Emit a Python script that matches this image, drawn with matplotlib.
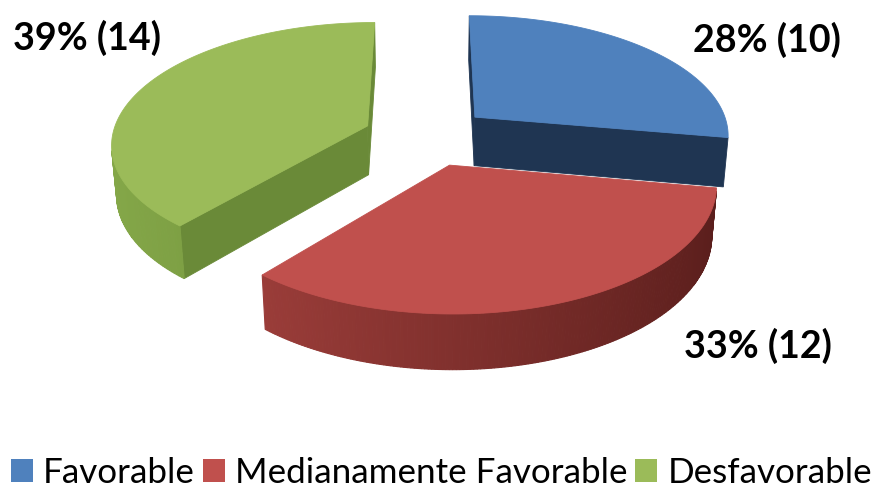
import numpy as np
import matplotlib
matplotlib.use('Agg')
import matplotlib.pyplot as plt
from matplotlib.patches import Polygon, Patch
from matplotlib import font_manager
from matplotlib.colors import to_rgb

# ---------------- data ----------------
categories = ['Favorable', 'Medianamente Favorable', 'Desfavorable']
counts = [10, 12, 14]
top_colors = ['#4F81BD', '#C0504D', '#9BBB59']
cut_colors = ['#1F3552', '#6E2624', '#6A8A38']
wall_left = ['#3A6394', '#A8433F', '#85A849']
wall_right = ['#1F3552', '#5A1E1C', '#5E7D2E']

# ---------------- figure ----------------
W, H = 871, 488
fig = plt.figure(figsize=(W / 100, H / 100), dpi=100)
ax = fig.add_axes([0, 0, 1, 1])
ax.set_xlim(0, W)
ax.set_ylim(H, 0)
ax.axis('off')

avail = {f.name for f in font_manager.fontManager.ttflist}
FAM = ['Lato', 'DejaVu Sans'] if 'Lato' in avail else ['DejaVu Sans']

# ---------------- 3D pie projection ----------------
S = 255.5
CX, CY = 427.0, 136.0
EL = np.radians(28.0)
DIST = 6.5
THICK = 0.222
EXPLODE = 0.25
cam = np.array([0.0, -DIST * np.cos(EL), DIST * np.sin(EL)])


def project(P):
    P = np.atleast_2d(np.asarray(P, dtype=float))
    x, y, z = P[:, 0], P[:, 1], P[:, 2]
    depth = DIST + y * np.cos(EL) - z * np.sin(EL)
    f = DIST / depth
    sy = y * np.sin(EL) + z * np.cos(EL)
    return np.column_stack([CX + S * x * f, CY - S * sy * f])


def visible(normal, point):
    return np.dot(normal, cam - point) > 0


total = sum(counts)
slices = []
cum = 0
for i, v in enumerate(counts):
    t1 = 90.0 - 360.0 * cum / total
    t0 = t1 - 360.0 * v / total
    cum += v
    mid = np.radians((t0 + t1) / 2)
    off = EXPLODE * np.array([np.cos(mid), np.sin(mid)])
    slices.append((i, t0, t1, off))

slices.sort(key=lambda s: -s[3][1])  # far first

for i, t0, t1, off in slices:
    ts = np.radians(np.linspace(t0, t1, 181))
    rim = np.column_stack([off[0] + np.cos(ts), off[1] + np.sin(ts)])
    z0 = np.zeros(len(ts))
    zb = np.full(len(ts), -THICK)
    rim_top = np.column_stack([rim, z0])
    rim_bot = np.column_stack([rim, zb])
    apex_top = np.array([off[0], off[1], 0.0])
    apex_bot = np.array([off[0], off[1], -THICK])

    # radial cut faces (only those facing the viewer's front)
    for nrm, idx in [(np.array([np.sin(ts[0]), -np.cos(ts[0]), 0.0]), 0),
                     (np.array([-np.sin(ts[-1]), np.cos(ts[-1]), 0.0]), -1)]:
        quad = np.array([apex_top, rim_top[idx], rim_bot[idx], apex_bot])
        if visible(nrm, quad.mean(axis=0)) and nrm[1] < 0.5:
            ax.add_patch(Polygon(project(quad), closed=True, facecolor=cut_colors[i],
                                 edgecolor=cut_colors[i], lw=0.6))

    # outer wall
    cl = np.array(to_rgb(wall_left[i]))
    cr = np.array(to_rgb(wall_right[i]))
    for j in range(len(ts) - 1):
        tm = 0.5 * (ts[j] + ts[j + 1])
        nrm = np.array([np.cos(tm), np.sin(tm), 0.0])
        pm = np.array([off[0] + np.cos(tm), off[1] + np.sin(tm), -THICK / 2])
        if visible(nrm, pm):
            frac = (1 - np.cos(tm)) / 2
            col = cr + (cl - cr) * frac
            quad = np.array([rim_top[j], rim_top[j + 1], rim_bot[j + 1], rim_bot[j]])
            ax.add_patch(Polygon(project(quad), closed=True, facecolor=col,
                                 edgecolor=col, lw=0.8))

    # top face
    top = np.vstack([apex_top, rim_top])
    ax.add_patch(Polygon(project(top), closed=True, facecolor=top_colors[i],
                         edgecolor=top_colors[i], lw=0.6))

# ---------------- labels ----------------
renderer = fig.canvas.get_renderer()


def fit_size(txt, target_w, weight='normal'):
    t = ax.text(0, 0, txt, fontsize=20, family=FAM, fontweight=weight)
    w = t.get_window_extent(renderer=renderer).width
    t.remove()
    return 20 * target_w / w


pct_labels = [f"{round(100 * v / total)}% ({v})" for v in counts]
label_pos = [(767, 40), (758, 346), (87, 38)]
lab_size = fit_size(pct_labels[2], 148, 'bold')
for txt, (x, y) in zip(pct_labels, label_pos):
    ax.text(x, y, txt, ha='center', va='center', fontsize=lab_size,
            fontweight='bold', family=FAM, color='black')

# ---------------- legend ----------------
leg_size = fit_size('Medianamente Favorable', 392)
em = leg_size * 100 / 72
handles = [Patch(facecolor=c, edgecolor='none') for c in top_colors]
fig.legend(handles, categories, loc='center', ncol=3,
           bbox_to_anchor=((12 + 871) / 2 / W, 1 - 473 / H),
           frameon=False, prop={'family': FAM, 'size': leg_size},
           handlelength=22 / em, handleheight=22 / em,
           handletextpad=10 / em, columnspacing=8 / em, borderpad=0,
           borderaxespad=0)

fig.savefig('out.png', dpi=100)
